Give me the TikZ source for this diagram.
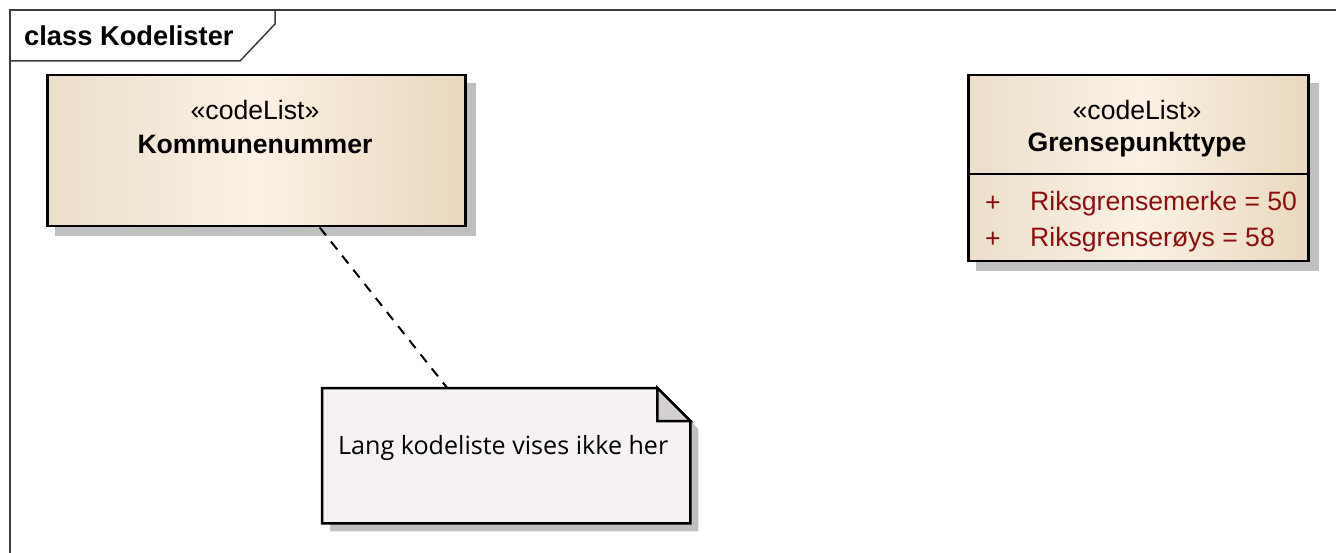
\documentclass[tikz,border=0pt]{standalone}
\usepackage{fontspec}
\setmainfont{Liberation Sans}
\newfontfamily\notefont{Open Sans}
\usetikzlibrary{calc,backgrounds}

\definecolor{boxleft}{RGB}{235,223,203}
\definecolor{boxright}{RGB}{233,216,190}
\definecolor{boxmid}{RGB}{251,241,228}
\definecolor{shadowgray}{RGB}{192,192,192}
\definecolor{notefill}{RGB}{245,241,245}
\definecolor{foldfill}{RGB}{211,207,211}
\definecolor{attrred}{RGB}{142,14,14}
\definecolor{framegray}{RGB}{60,60,60}

\tikzset{
	classbox/.style={draw=black, line width=2.5pt, left color=boxleft, right color=boxright, middle color=boxmid, anchor=north west, inner sep=0pt},
	shadowfill/.style={fill=shadowgray, draw=none},
	stereotxt/.style={font=\fontsize{26.6}{31}\selectfont, inner sep=0pt},
	nametxt/.style={font=\fontsize{26.6}{31}\selectfont\bfseries, inner sep=0pt},
	attrtxt/.style={font=\fontsize{26.6}{31}\selectfont, text=attrred, inner sep=0pt, anchor=west},
	notebox/.style={draw=black, line width=2.5pt, fill=notefill, line join=miter},
	notetxt/.style={font=\fontsize{25.1}{30}\notefont, inner sep=0pt, anchor=west},
	frameline/.style={draw=framegray, line width=1.5pt}
}

\begin{document}
\begin{tikzpicture}[x=1pt, y=-1pt]
		\useasboundingbox (0,0) rectangle (1336,553);
		
		% frame and title tab
		\draw[frameline] (1336,10) -- (10,10) -- (10,553);
		\draw[frameline] (10,10) -- (275,10) -- (275,24) -- (240,61) -- (10,61);
		\node[nametxt, anchor=west, font=\fontsize{27.3}{31}\selectfont\bfseries] (title) at (24,36) {class Kodelister};
		
		% Kommunenummer
		\node[classbox, minimum width=418pt, minimum height=151pt] (kommune) at (46,74) {};
		\node[stereotxt] (kstereo) at (255,110) {«codeList»};
		\node[nametxt] (kname) at (255,144) {Kommunenummer};
		
		% Grensepunkttype
		\node[classbox, minimum width=340pt, minimum height=186pt] (grense) at (967,74) {};
		\draw[line width=2.5pt] ($(grense.north west)+(0,100)$) -- ($(grense.north east)+(0,100)$);
		\node[stereotxt] (gstereo) at (1137,110) {«codeList»};
		\node[nametxt] (gname) at (1137,145) {Grensepunkttype};
		\node[attrtxt] (plus1) at (985,204) {+};
		\node[attrtxt] (attr1) at (1030,204) {Riksgrensemerke = 50};
		\node[attrtxt] (plus2) at (985,240) {+};
		\node[attrtxt] (attr2) at (1030,240) {Riksgrenserøys = 58};
		
		% note
		\node[minimum width=368pt, minimum height=135pt, anchor=north west, inner sep=0pt] (note) at (322,388) {};
		\draw[notebox] (note.north west) -- ($(note.north east)+(-33,0)$) -- ($(note.north east)+(0,33)$) -- (note.south east) -- (note.south west) -- cycle;
		\filldraw[draw=black, line width=2.5pt, fill=foldfill] ($(note.north east)+(-33,0)$) -- ($(note.north east)+(-33,33)$) -- ($(note.north east)+(0,33)$) -- cycle;
		\node[notetxt] (notetext) at (338,448) {Lang kodeliste vises ikke her};
		
		\draw[line width=2pt, dash pattern=on 10pt off 8pt] ($(kommune.south west)!0.651!(kommune.south east)$) -- ($(note.north west)!0.34!(note.north east)$);
		
		% shadows
		\begin{scope}[on background layer]
			\fill[shadowfill] ($(kommune.north west)+(9,9)$) rectangle ($(kommune.south east)+(9,9)$);
			\fill[shadowfill] ($(grense.north west)+(9,9)$) rectangle ($(grense.south east)+(9,9)$);
			\fill[shadowfill] ($(note.north west)+(8,8)$) -- ($(note.north east)+(-25,8)$) -- ($(note.north east)+(8,41)$) -- ($(note.south east)+(8,8)$) -- ($(note.south west)+(8,8)$) -- cycle;
		\end{scope}
	\end{tikzpicture}
\end{document}
